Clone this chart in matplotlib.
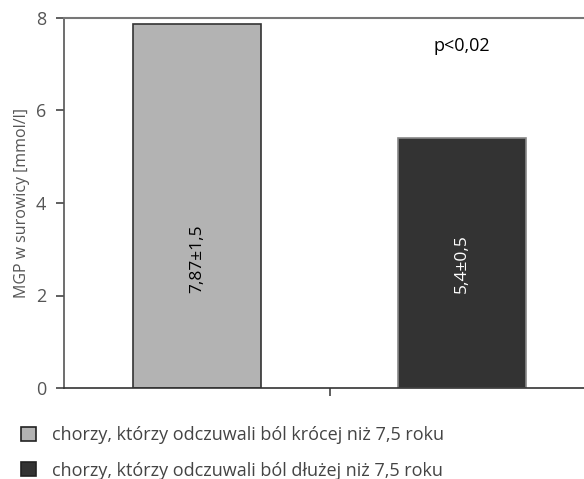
import matplotlib.pyplot as plt
from matplotlib.patches import Patch

plt.rcParams['font.family'] = ['Open Sans', 'DejaVu Sans']

groups = ['chorzy, którzy odczuwali ból krócej niż 7,5 roku',
          'chorzy, którzy odczuwali ból dłużej niż 7,5 roku']
values = [7.87, 5.4]
bar_labels = ['7,87±1,5', '5,4±0,5']
colors = ['#b3b3b3', '#333333']
edges = ['#333333', '#888888']
text_colors = ['black', 'white']
yticks = [0, 2, 4, 6, 8]

fig = plt.figure(figsize=(5.84, 4.79), dpi=100)
ax = fig.add_axes([64 / 584, 91 / 479, 1 - 64 / 584, 370 / 479])

x = [0, 1]
bars = ax.bar(x, values, width=0.483, color=colors, edgecolor=edges, linewidth=1.2)
label_y = [2.8, 2.7]
for i, b in enumerate(bars):
    ax.text(b.get_x() + b.get_width() / 2, label_y[i], bar_labels[i],
            rotation=90, ha='center', va='center', fontsize=12.5, color=text_colors[i])

ax.text(1, 7.4, 'p<0,02', ha='center', va='center', fontsize=13, color='black')

ax.set_xlim(-0.502, 1.46)
ax.set_ylim(0, 8)
ax.set_yticks(yticks)
ax.set_xticks([0.5])
ax.set_xticklabels([''])
ax.tick_params(axis='y', direction='out', length=6, width=1.2, color='#444444',
               labelsize=13, labelcolor='#555555', pad=7)
ax.tick_params(axis='x', direction='out', length=6, width=1.2, color='#444444')
ax.set_ylabel('MGP w surowicy [mmol/l]', fontsize=11.5, color='#555555', labelpad=4)

ax.spines['top'].set_color('#777777')
ax.spines['top'].set_linewidth(1.5)
ax.spines['right'].set_visible(False)
ax.spines['left'].set_color('#555555')
ax.spines['left'].set_linewidth(1.2)
ax.spines['bottom'].set_color('#333333')
ax.spines['bottom'].set_linewidth(1.2)

handles = [Patch(facecolor=colors[i], edgecolor='#222222', linewidth=1.2) for i in range(2)]
leg = fig.legend(handles, groups, loc='upper left', frameon=False, fontsize=13,
                 handlelength=0.8, handleheight=0.8, handletextpad=0.9, labelspacing=0.95,
                 labelcolor='#444444', borderaxespad=0)
leg.set_bbox_to_anchor((0.024, 0.125), transform=fig.transFigure)

fig.savefig('out.png', dpi=100)
